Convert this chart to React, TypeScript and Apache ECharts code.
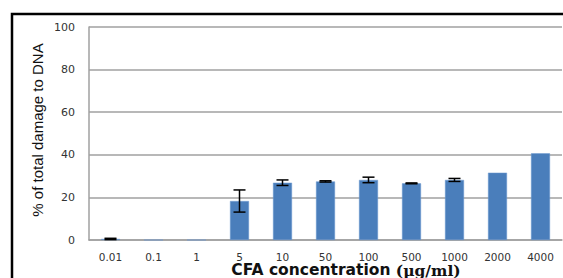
import React, { useEffect, useRef } from "react";
import * as echarts from "echarts";

const categories = ["0.01", "0.1", "1", "5", "10", "50", "100", "500", "1000", "2000", "4000"];
const damageValues = [0.5, 0, 0, 18.3, 26.9, 27.5, 28.2, 26.6, 28.2, 31.6, 40.7];
const errorValues = [0.3, 0, 0, 5.2, 1.3, 0.3, 1.3, 0.2, 0.7, 0, 0];
const yTicks = [0, 20, 40, 60, 80, 100];

export default function App() {
  const ref = useRef<HTMLDivElement>(null);
  useEffect(() => {
    document.body.style.margin = "0";
    if (!ref.current) return;
    const chart = echarts.init(ref.current, undefined, { renderer: "svg" });
    const errData = damageValues
      .map((v, i) => [i, v - errorValues[i], v + errorValues[i], errorValues[i]])
      .filter((d) => d[3] > 0);
    chart.setOption({
      animation: false,
      backgroundColor: "#ffffff",
      grid: { left: 89, top: 27, right: 1, bottom: 38 },
      xAxis: {
        type: "category",
        data: categories,
        boundaryGap: true,
        axisLine: { show: true, lineStyle: { color: "#a0a0a0", width: 1.5 } },
        axisTick: { show: false },
        axisLabel: { color: "#333", fontFamily: "DejaVu Sans", fontSize: 10.5, margin: 11 },
        splitLine: { show: false },
      },
      yAxis: {
        type: "value",
        min: yTicks[0],
        max: yTicks[yTicks.length - 1],
        interval: 20,
        axisLine: { show: true, lineStyle: { color: "#a0a0a0", width: 1.5 } },
        axisTick: { show: false },
        axisLabel: { color: "#333", fontFamily: "DejaVu Sans", fontSize: 11, margin: 14 },
        splitLine: { show: true, lineStyle: { color: "#a0a0a0", width: 1.5 } },
      },
      series: [
        {
          type: "bar",
          data: damageValues,
          barWidth: 19,
          itemStyle: { color: "#4a7ebb", borderColor: "#6e9ad0", borderWidth: 0.5 },
          z: 2,
        },
        {
          type: "custom",
          data: errData,
          z: 3,
          renderItem: (params: any, api: any) => {
            const idx = api.value(0);
            const lo = api.coord([idx, api.value(1)]);
            const hi = api.coord([idx, api.value(2)]);
            const hw = 6;
            const style = { stroke: "#000", lineWidth: 1.5 };
            return {
              type: "group",
              children: [
                { type: "line", shape: { x1: hi[0], y1: hi[1], x2: lo[0], y2: lo[1] }, style },
                { type: "line", shape: { x1: hi[0] - hw, y1: hi[1], x2: hi[0] + hw, y2: hi[1] }, style },
                { type: "line", shape: { x1: lo[0] - hw, y1: lo[1], x2: lo[0] + hw, y2: lo[1] }, style },
              ],
            };
          },
        },
      ],
      graphic: [
        {
          type: "rect",
          shape: { x: 12, y: 14, width: 700, height: 400 },
          style: { fill: "none", stroke: "#000", lineWidth: 2.5 },
          z: 10,
        },
        {
          type: "text",
          x: 37,
          y: 130,
          rotation: Math.PI / 2,
          style: {
            text: "% of total damage to DNA",
            fontFamily: "Liberation Sans",
            fontSize: 15,
            fill: "#111",
            align: "center",
            verticalAlign: "middle",
          },
        },
        {
          type: "text",
          x: 346,
          y: 270,
          style: {
            text: "{a|CFA concentration }{b|(µg/ml)}",
            align: "center",
            verticalAlign: "middle",
            rich: {
              a: { fontFamily: "DejaVu Sans", fontWeight: "bold", fontSize: 15.5, fill: "#111", lineHeight: 16 },
              b: { fontFamily: "DejaVu Serif", fontWeight: "bold", fontSize: 15.5, fill: "#111", lineHeight: 16 },
            },
          },
        },
      ],
    });
    return () => chart.dispose();
  }, []);
  return <div ref={ref} style={{ width: 563, height: 278 }} />;
}
